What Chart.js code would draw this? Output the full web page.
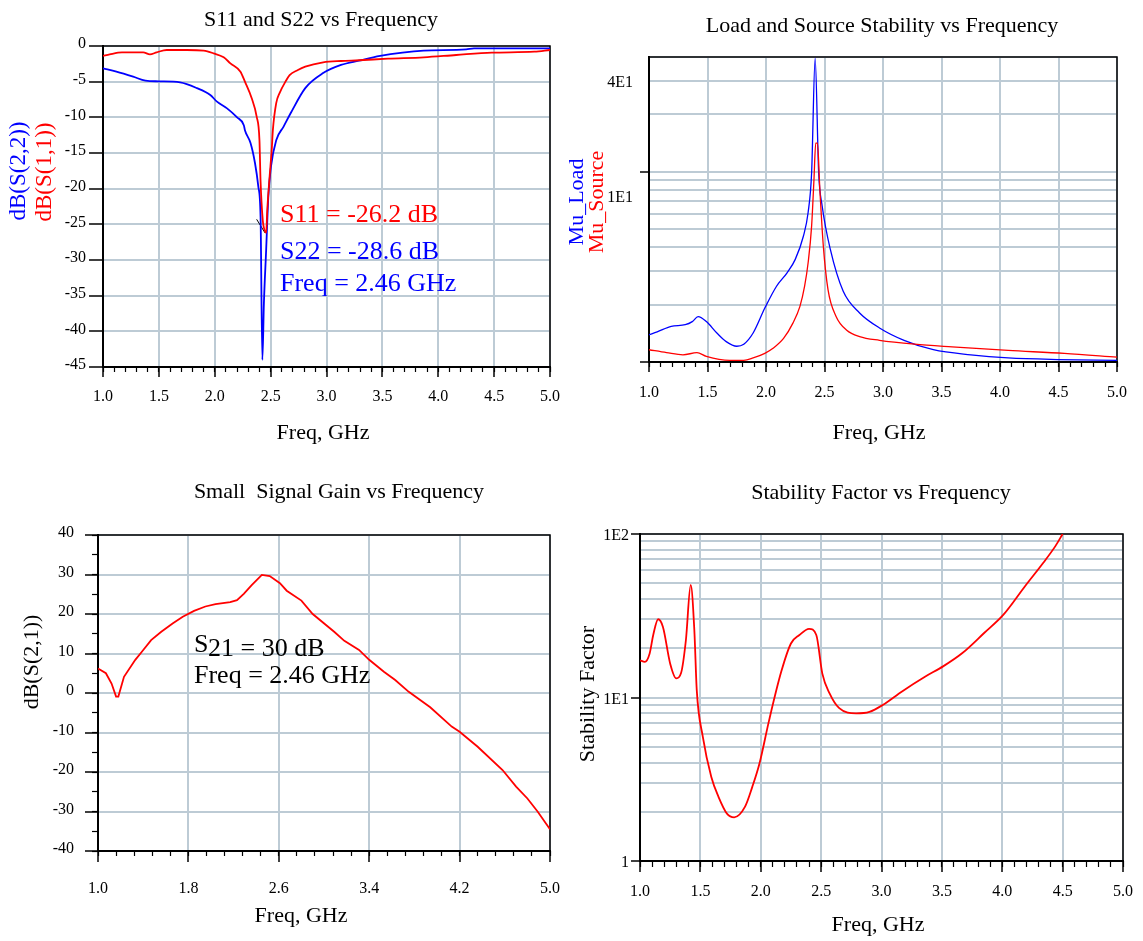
<!DOCTYPE html>
<html>
<head>
<meta charset="utf-8">
<script src="https://cdn.jsdelivr.net/npm/chart.js@4.4.1/dist/chart.umd.min.js"></script>
<style>
  html, body { margin: 0; padding: 0; background: #fff; }
  canvas { position: absolute; left: 0; top: 0; }
</style>
</head>
<body>
<canvas id="c1" width="1143" height="941"></canvas>
<canvas id="c2" width="1143" height="941"></canvas>
<canvas id="c3" width="1143" height="941"></canvas>
<canvas id="c4" width="1143" height="941"></canvas>
<script>
// ---- S11 / S22 ----
const s11Freq = [1.00,1.06,1.17,1.36,1.42,1.48,1.57,1.75,1.90,1.99,2.08,2.14,2.23,2.27,2.33,2.375,2.40,2.41,2.43,2.44,2.46,2.47,2.49,2.51,2.52,2.55,2.58,2.64,2.67,2.74,2.81,2.97,3.13,3.29,3.55,3.87,4.16,4.48,4.86,5.00];
const s11Db   = [-1.4,-1.17,-0.89,-0.89,-1.17,-0.89,-0.56,-0.56,-0.65,-1.03,-1.59,-2.43,-3.6,-5.0,-7.3,-9.9,-13.2,-19,-24.5,-25.5,-26.2,-23,-18.5,-14.5,-11.8,-8.0,-6.6,-4.8,-4.07,-3.4,-2.9,-2.3,-2.1,-2.0,-1.78,-1.59,-1.26,-0.93,-0.8,-0.56];
const s22Freq = [1.00,1.12,1.27,1.38,1.50,1.69,1.84,1.96,2.02,2.11,2.20,2.26,2.27,2.32,2.36,2.39,2.41,2.426,2.44,2.46,2.48,2.503,2.55,2.616,2.68,2.81,2.97,3.13,3.29,3.48,3.68,3.87,4.25,4.32,5.00];
const s22Db   = [-3.13,-3.6,-4.3,-4.86,-4.95,-5.1,-5.9,-6.87,-7.8,-8.74,-10,-11.1,-11.8,-13.6,-16.4,-19.7,-24,-44,-36,-28.6,-21,-16.9,-13.2,-11.3,-9.4,-5.9,-3.8,-2.66,-2.06,-1.4,-0.93,-0.65,-0.47,-0.33,-0.33];
const markerFreq = [2.375, 2.45];
const markerDb = [-24.3, -26.2];
const sTicks = [-45,-40,-35,-30,-25,-20,-15,-10,-5,0];
const sTickLabels = ['-45','-40','-35','-30','-25','-20','-15','-10','-5','0'];

// ---- Mu_Load / Mu_Source ----
const loadFreq = [1.00,1.07,1.19,1.31,1.37,1.42,1.49,1.58,1.66,1.75,1.81,1.89,1.99,2.09,2.18,2.25,2.32,2.36,2.39,2.42,2.45,2.48,2.55,2.66,2.80,2.97,3.18,3.43,3.75,4.07,4.49,5.00];
const muLoad   = [1.39,1.44,1.54,1.57,1.63,1.73,1.63,1.42,1.28,1.21,1.24,1.42,1.92,2.50,2.94,3.46,4.59,6.1,9.9,39.4,9.9,6.6,3.9,2.35,1.81,1.51,1.30,1.16,1.09,1.05,1.03,1.02];
const sourceFreq = [1.00,1.15,1.29,1.41,1.49,1.69,1.81,1.89,1.99,2.06,2.15,2.23,2.29,2.33,2.36,2.39,2.41,2.425,2.44,2.46,2.49,2.53,2.60,2.69,2.80,2.97,3.27,3.59,4.07,4.55,5.00];
const muSource   = [1.16,1.12,1.09,1.12,1.07,1.02,1.02,1.05,1.11,1.18,1.33,1.60,1.96,2.50,3.32,5.19,9.1,14.1,14.1,8.1,4.06,2.40,1.73,1.47,1.36,1.30,1.24,1.20,1.15,1.11,1.06];
const muTicks = [1,2,3,4,5,6,7,8,9,10,20,30,40];
const muTickLabels = ['','','','','','','','','','1E1','','','4E1'];

// ---- S21 ----
const gainFreq = [1.00,1.07,1.12,1.16,1.18,1.23,1.33,1.39,1.47,1.56,1.66,1.75,1.85,1.95,2.04,2.17,2.23,2.29,2.36,2.45,2.52,2.61,2.67,2.80,2.90,3.09,3.18,3.31,3.40,3.53,3.63,3.75,3.94,4.13,4.20,4.36,4.58,4.70,4.80,4.89,5.00];
const s21Db    = [6.2,5.0,2.4,-0.9,-0.9,4.1,8.4,10.5,13.4,15.5,17.6,19.3,20.8,21.9,22.5,23.0,23.5,25.1,27.3,29.9,29.6,27.8,25.9,23.4,20.0,15.5,13.2,10.9,8.4,5.4,3.3,0.3,-3.6,-8.5,-9.8,-13.6,-19.5,-23.7,-26.7,-30.0,-34.5];
const gainTicks = [-40,-30,-20,-10,0,10,20,30,40];
const gainTickLabels = ['-40','-30','-20','-10','0','10','20','30','40'];
const gainFreqTicks = [1.0,1.8,2.6,3.4,4.2,5.0];

// ---- Stability factor ----
const kFreq = [1.00,1.04,1.08,1.11,1.15,1.19,1.25,1.30,1.34,1.38,1.42,1.45,1.47,1.52,1.59,1.65,1.72,1.78,1.87,1.93,1.99,2.07,2.17,2.25,2.32,2.40,2.46,2.51,2.57,2.65,2.79,2.90,3.01,3.17,3.36,3.51,3.67,3.85,4.01,4.19,4.34,4.44,4.50];
const kVal  = [16.9,16.5,18.6,24.2,30.1,27.0,16.1,13.1,14.1,22.4,48.8,25.8,11.1,5.77,3.28,2.47,1.95,1.85,2.15,2.84,3.96,7.3,14.4,21.4,24.1,26.3,24.1,14.0,10.6,8.6,8.0,8.17,9.0,10.9,13.4,15.5,18.7,24.8,32.1,48.1,66.7,84.3,100];
const kTicks = [1,2,3,4,5,6,7,8,9,10,20,30,40,50,60,70,80,90,100];
const kTickLabels = ['1','','','','','','','','','1E1','','','','','','','','','1E2'];

const freqTicks = [1.0,1.5,2.0,2.5,3.0,3.5,4.0,4.5,5.0];

const W = 1143, H = 941;
const LAB_W = 60, LAB_H = 50;   // room kept for tick labels beside the plot
const GRID = '#bdcbd5';
const FONT = 'Liberation Serif';
const RED = '#ff0000', BLUE = '#0000ff';
Chart.defaults.font.family = FONT;
Chart.defaults.color = '#000';

const steps = (a, b, d) => {
  const r = [];
  for (let v = a; v <= b + 1e-9; v += d) r.push(Math.round(v * 1000) / 1000);
  return r;
};
const pts = (xs, ys) => xs.map((x, i) => ({x: x, y: ys[i]}));
const line = (xs, ys, color, w) => ({
  data: pts(xs, ys), borderColor: color, borderWidth: w, pointRadius: 0,
  fill: false, cubicInterpolationMode: 'monotone', xAxisID: 'x', yAxisID: 'y'
});

function xMajor(ticks, tl, pad) {
  return {
    type: 'linear', position: 'bottom', weight: 1, min: ticks[0], max: ticks[ticks.length - 1],
    afterFit: s => { s.height = LAB_H; },
    afterBuildTicks: s => { s.ticks = ticks.map(v => ({value: v})); },
    grid: {color: GRID, lineWidth: 2, tickLength: tl, tickColor: '#000', tickWidth: 1.5},
    border: {color: '#000', width: 2},
    ticks: {padding: pad, autoSkip: false, maxRotation: 0, font: {size: 16}, color: '#000',
      callback: v => v.toFixed(1)}
  };
}
function minor(pos, ticks, tl) {
  return {
    type: 'linear', position: pos, weight: 0, min: Math.min(...ticks), max: Math.max(...ticks),
    afterFit: s => { if (pos === 'bottom') s.height = 0; else s.width = 0; },
    afterBuildTicks: s => { s.ticks = ticks.map(v => ({value: v})); },
    grid: {drawOnChartArea: false, tickLength: tl, tickColor: '#000', tickWidth: 1.2},
    border: {display: false},
    ticks: {autoSkip: false, callback: () => ''}
  };
}
function yLinear(ticks, labels, tl, pad, off) {
  return {
    type: 'linear', position: 'left', weight: 1, min: Math.min(...ticks), max: Math.max(...ticks),
    afterFit: s => { s.width = LAB_W; },
    afterBuildTicks: s => { s.ticks = ticks.map(v => ({value: v})); },
    grid: {color: GRID, lineWidth: 2, tickLength: tl, tickColor: '#000', tickWidth: 1.5},
    border: {color: '#000', width: 2},
    ticks: {padding: pad, labelOffset: off, autoSkip: false, font: {size: 16}, color: '#000',
      callback: (v, i) => labels[i]}
  };
}
function yLog(ticks, labels, majors, tl, pad, off) {
  return {
    type: 'logarithmic', position: 'left', weight: 1, min: ticks[0], max: ticks[ticks.length - 1],
    afterFit: s => { s.width = LAB_W; },
    afterBuildTicks: s => { s.ticks = ticks.map(v => ({value: v})); },
    grid: {color: GRID, lineWidth: 2, tickLength: tl, tickWidth: 1.5,
      tickColor: c => (c.tick && majors.includes(c.tick.value)) ? '#000' : 'rgba(0,0,0,0)'},
    border: {color: '#000', width: 2},
    ticks: {padding: pad, labelOffset: off, autoSkip: false, font: {size: 16}, color: '#000',
      callback: (v, i) => labels[i]}
  };
}

const frame = {
  id: 'frame',
  beforeDatasetsDraw(chart) {
    const {ctx, chartArea: a} = chart;
    ctx.save();
    ctx.strokeStyle = '#000';
    ctx.lineWidth = 1.5;
    ctx.strokeRect(a.left, a.top, a.right - a.left, a.bottom - a.top);
    ctx.restore();
  }
};
const texts = items => ({
  id: 'texts',
  afterDraw(chart) {
    const ctx = chart.ctx;
    items.forEach(t => {
      ctx.save();
      ctx.font = t.size + 'px ' + FONT;
      ctx.fillStyle = t.color || '#000';
      ctx.textAlign = t.align || 'center';
      ctx.textBaseline = t.base || 'middle';
      ctx.translate(t.x, t.y);
      if (t.rot) ctx.rotate(-Math.PI / 2);
      ctx.fillText(t.text, 0, 0);
      ctx.restore();
    });
  }
});

// area = [left, top, right, bottom] of the plot box in page pixels
function plot(id, area, datasets, scales, labels) {
  return new Chart(document.getElementById(id), {
    type: 'line',
    data: {datasets: datasets},
    options: {
      responsive: false,
      animation: false,
      events: [],
      layout: {padding: {left: area[0] - LAB_W, top: area[1], right: W - area[2], bottom: H - area[3] - LAB_H}},
      plugins: {legend: {display: false}, tooltip: {enabled: false}, title: {display: false}},
      scales: scales
    },
    plugins: [frame, texts(labels)]
  });
}

// S11 and S22
plot('c1', [103, 46, 550, 367], [
  line(s11Freq, s11Db, RED, 1.8),
  line(s22Freq, s22Db, BLUE, 1.8),
  Object.assign(line(markerFreq, markerDb, '#000', 1), {cubicInterpolationMode: 'default', tension: 0})
], {
  x: xMajor(freqTicks, 10, 10),
  xm: minor('bottom', steps(1, 5, 0.1), 5),
  y: yLinear(sTicks, sTickLabels, 14, 3, -2)
}, [
  {text: 'S11 and S22 vs Frequency', x: 321, y: 20, size: 22},
  {text: 'Freq, GHz', x: 323, y: 433, size: 22},
  {text: 'dB(S(2,2))', x: 19, y: 171, size: 23, rot: true, color: BLUE},
  {text: 'dB(S(1,1))', x: 45, y: 172, size: 23, rot: true, color: RED},
  {text: 'S11 = -26.2 dB', x: 280, y: 222, size: 26, align: 'left', base: 'alphabetic', color: RED},
  {text: 'S22 = -28.6 dB', x: 280, y: 259, size: 26, align: 'left', base: 'alphabetic', color: BLUE},
  {text: 'Freq = 2.46 GHz', x: 280, y: 291, size: 26, align: 'left', base: 'alphabetic', color: BLUE}
]);

// Load and source stability
plot('c2', [649, 57, 1117, 362], [
  line(sourceFreq, muSource, RED, 1.3),
  line(loadFreq, muLoad, BLUE, 1.3)
], {
  x: xMajor(freqTicks, 10, 11),
  xm: minor('bottom', steps(1, 5, 0.1), 5),
  y: yLog(muTicks, muTickLabels, [1, 10], 9, 7, 26)
}, [
  {text: 'Load and Source Stability vs Frequency', x: 882, y: 26, size: 22},
  {text: 'Freq, GHz', x: 879, y: 433, size: 22},
  {text: 'Mu_Load', x: 577, y: 202, size: 22, rot: true, color: BLUE},
  {text: 'Mu_Source', x: 597, y: 202, size: 22, rot: true, color: RED}
]);

// Small signal gain
plot('c3', [98, 535, 550, 851], [
  Object.assign(line(gainFreq, s21Db, RED, 1.8), {cubicInterpolationMode: 'default', tension: 0})
], {
  x: xMajor(gainFreqTicks, 11, 17),
  xm: minor('bottom', steps(1, 5, 0.16), 5),
  y: yLinear(gainTicks, gainTickLabels, 13, 11, -2),
  ym: minor('left', steps(-40, 40, 5), 6)
}, [
  {text: 'Small  Signal Gain vs Frequency', x: 339, y: 492, size: 22},
  {text: 'Freq, GHz', x: 301, y: 916, size: 22},
  {text: 'dB(S(2,1))', x: 32, y: 662, size: 22, rot: true},
  {text: 'S', x: 194, y: 652, size: 26, align: 'left', base: 'alphabetic'},
  {text: '21 = 30 dB', x: 208, y: 655.5, size: 26, align: 'left', base: 'alphabetic'},
  {text: 'Freq = 2.46 GHz', x: 194, y: 683, size: 26, align: 'left', base: 'alphabetic'}
]);

// Stability factor
plot('c4', [640, 534, 1125, 861], [
  line(kFreq, kVal, RED, 1.8)
], {
  x: xMajor(freqTicks, 11, 10),
  xm: minor('bottom', steps(1, 5, 0.1), 6),
  y: yLog(kTicks, kTickLabels, [1, 10, 100], 9, 2, 2)
}, [
  {text: 'Stability Factor vs Frequency', x: 881, y: 493, size: 22},
  {text: 'Freq, GHz', x: 878, y: 925, size: 22},
  {text: 'Stability Factor', x: 588, y: 694, size: 22, rot: true}
]);
</script>
</body>
</html>
